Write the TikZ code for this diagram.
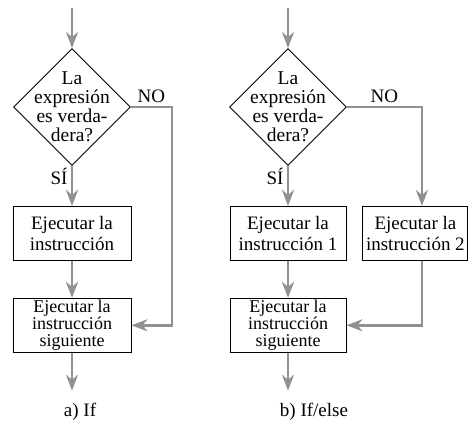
\documentclass[tikz,border=0pt]{standalone}
\usepackage{fontspec}
\setmainfont{Liberation Serif}
\usepackage{xcolor}
\usetikzlibrary{arrows.meta,positioning,shapes.geometric}

\definecolor{flowgray}{RGB}{145,145,145}

\begin{document}
\begin{tikzpicture}[
    x=1pt, y=-1pt,
    font=\fontsize{19}{20.5}\selectfont,
    decision/.style={diamond,draw,line width=0.9pt,minimum width=117pt,minimum height=117pt,
        inner sep=-30pt,align=center,font=\fontsize{19.5}{19}\selectfont},
    process/.style={rectangle,draw,line width=0.9pt,minimum height=54pt,inner sep=0pt,align=center},
    tight/.style={font=\fontsize{18}{17}\selectfont},
    flow/.style={-{Stealth[length=16pt,width=12pt,inset=5pt]},draw=flowgray,line width=2.5pt},
]
\useasboundingbox (0,0) rectangle (469,427);

% ---- a) if ----
\node[decision] (cond1) at (72,107) {La\\expresión\\es verda-\\dera?};
\coordinate[above=40pt of cond1.north] (in1);
\node[process,minimum width=118pt,below=40pt of cond1] (then1) {Ejecutar la\\instrucción};
\node[process,tight,minimum width=118pt,below=37pt of then1] (next1) {Ejecutar la\\instrucción\\siguiente};
\coordinate[below=38pt of next1] (out1);
\node (cap1) at (80,412) {a) If};

\draw[flow] (in1) -- (cond1);
\draw[flow] (cond1) -- node[pos=0.27,left=0pt] {SÍ} (then1);
\draw[flow] (then1) -- (next1);
\draw[flow] (next1) -- (out1);
% false branch skips straight to the next instruction
\draw[flow] (cond1.east) -- node[above] {NO} ++(41,0) |- (next1.east);

% ---- b) if/else ----
\node[decision] (cond2) at (288,107) {La\\expresión\\es verda-\\dera?};
\coordinate[above=40pt of cond2.north] (in2);
\node[process,minimum width=116pt,below=40pt of cond2] (then2) {Ejecutar la\\instrucción 1};
\node[process,minimum width=105pt,right=16pt of then2] (else2) {Ejecutar la\\instrucción 2};
\node[process,tight,minimum width=116pt,below=37pt of then2] (next2) {Ejecutar la\\instrucción\\siguiente};
\coordinate[below=38pt of next2] (out2);
\node (cap2) at (314,412) {b) If/else};

\draw[flow] (in2) -- (cond2);
\draw[flow] (cond2) -- node[pos=0.27,left=0pt] {SÍ} (then2);
\draw[flow] (then2) -- (next2);
\draw[flow] (next2) -- (out2);
\draw[flow] (cond2.east) -- node[above] {NO} ++(75,0) coordinate (turn2) -- (turn2 |- else2.north);
\draw[flow] (turn2 |- else2.south) |- (next2.east);
\end{tikzpicture}
\end{document}
